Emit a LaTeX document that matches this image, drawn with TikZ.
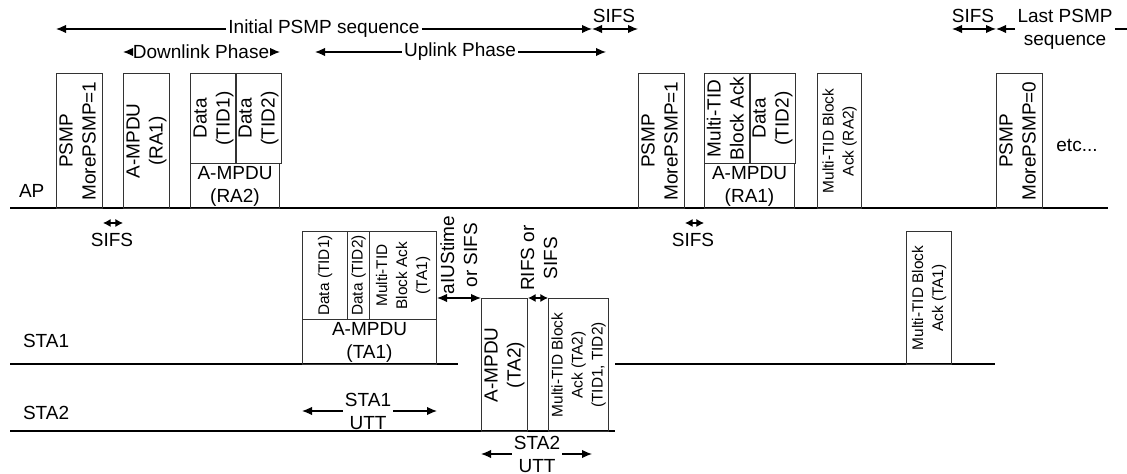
\documentclass[tikz,border=0pt]{standalone}
\usepackage{fontspec}
\setmainfont{Liberation Sans}
\usepackage{graphicx}
\usetikzlibrary{arrows.meta}
\newcommand{\vtext}[1]{\rotatebox{90}{\begin{tabular}{@{}c@{}}#1\end{tabular}}}
\begin{document}
\begin{tikzpicture}[x=0.5pt,y=-0.5pt,
  every node/.style={font=\fontsize{9.5}{11.5}\selectfont},
  small/.style={font=\fontsize{7.7}{10}\selectfont},
  pkt/.style 2 args={draw=black!80,line width=0.5pt,inner sep=0pt,anchor=north west,
    minimum width=#1*0.5pt,minimum height=#2*0.5pt},
  tline/.style={line width=0.7pt},
  tip/.style={line width=0.55pt,-{Latex[length=5pt,width=4.2pt]}},
  dim/.style={line width=0.55pt,{Latex[length=5pt,width=4.2pt]}-{Latex[length=5pt,width=4.2pt]}},
  dimshort/.style={line width=0.55pt,{Latex[length=3.8pt,width=4pt]}-{Latex[length=3.8pt,width=4pt]}}]
\useasboundingbox (0,0) rectangle (1127,474);
% time lines
\draw[tline] (10,208) -- (1108,208);
\draw[tline] (10,364) -- (458,364);
\draw[tline] (615,364) -- (995,364);
\draw[tline] (10,431) -- (615,431);
\node[anchor=west] (ap) at (12,191) {AP};
\node[anchor=west] (sta1) at (16,341) {STA1};
\node[anchor=west] (sta2) at (16,413) {STA2};
% AP frames
\node[pkt={45}{135}] (psmpA) at (56,73) {\vtext{PSMP\\MorePSMP=1}};
\node[pkt={44}{135}] (mpduA) at (123,73) {\vtext{A-MPDU\\(RA1)}};
\node[pkt={45}{90}] (dataA) at (190,73) {\vtext{Data\\(TID1)}};
\node[pkt={44}{90}] (dataB) at (235,73) {\vtext{Data\\(TID2)}};
\node[pkt={89}{45},align=center] (mpduB) at (190,163) {A-MPDU\\(RA2)};
\node[pkt={44}{135}] (psmpB) at (638,73) {\vtext{PSMP\\MorePSMP=1}};
\node[pkt={45}{90}] (ackA) at (704,73) {\vtext{Multi-TID\\Block Ack}};
\node[pkt={45}{90}] (dataC) at (749,73) {\vtext{Data\\(TID2)}};
\node[pkt={90}{45},align=center] (mpduC) at (704,163) {A-MPDU\\(RA1)};
\node[pkt={44}{135},small] (ackB) at (817,73) {\vtext{Multi-TID Block\\Ack (RA2)}};
\node[pkt={45}{135}] (psmpC) at (996,73) {\vtext{PSMP\\MorePSMP=0}};
\node (etc) at (1077,145) {etc...};
% STA1 frames
\node[pkt={45}{88},small] (dataD) at (302,231) {\vtext{Data (TID1)}};
\node[pkt={22}{88},small] (dataE) at (347,231) {\vtext{Data (TID2)}};
\node[pkt={67}{88},small] (ackC) at (369,231) {\vtext{Multi-TID\\Block Ack\\(TA1)}};
\node[pkt={134}{45},align=center] (mpduD) at (302,319) {A-MPDU\\(TA1)};
\node[pkt={45}{133},small] (ackD) at (906,231) {\vtext{Multi-TID Block\\Ack (TA1)}};
% STA2 frames
\node[pkt={45}{133}] (mpduE) at (481,298) {\vtext{A-MPDU\\(TA2)}};
\node[pkt={56}{133},small] (ackE) at (548,298) {\vtext{Multi-TID Block\\Ack (TA2)\\(TID1, TID2)}};
% sequence and phase spans
\node[inner sep=1pt] (init) at (324,29) {Initial PSMP sequence};
\coordinate (initR) at (592,29);
\draw[tip] (init.west) -- (init.west -| psmpA.west);
\draw[tip] (init.east) -- (initR);
\node (sifsA) at (614,16) {SIFS};
\draw[dim] (initR) -- (initR -| psmpB.west);
\node[inner sep=1pt] (down) at (201,52) {Downlink Phase};
\draw[tip] (down.west) -- (down.west -| mpduA.west);
\draw[tip] (down.east) -- (down.east -| mpduB.east);
\node[inner sep=1pt] (up) at (460,52) {Uplink Phase};
\coordinate (upL) at (315,52);
\coordinate (upR) at (606,52);
\draw[tip] (up.west) -- (upL);
\draw[tip] (up.east) -- (upR);
\coordinate (sifsL) at (952,29);
\node (sifsB) at (973,16) {SIFS};
\draw[dim] (sifsL) -- (sifsL -| psmpC.west);
\node[align=center,inner sep=1pt] (last) at (1065,29) {Last PSMP\\sequence};
\coordinate (edgeR) at (1127,29);
\draw[tip] (last.west) -- (last.west -| psmpC.west);
\draw[line width=0.55pt] (last.east) -- (edgeR);
% inter-frame spaces
\draw[dimshort] ([yshift=-7pt]psmpA.south east) -- ([yshift=-7pt]mpduA.south west);
\node (sifsC) at (112,240) {SIFS};
\draw[dimshort] ([yshift=-7pt]psmpB.south east) -- ([yshift=-7pt]mpduC.south west);
\node (sifsD) at (693,240) {SIFS};
\draw[dim] (ackC.east |- mpduE.north) -- (mpduE.north west);
\node[inner sep=0pt] (aius) at (461,255) {\vtext{aIUStime\\or SIFS}};
\draw[dimshort] (mpduE.north east) -- (ackE.north west);
\node[inner sep=0pt] (rifs) at (541,258) {\vtext{RIFS or\\SIFS}};
% uplink transmission times
\node[align=center,inner sep=1pt] (utt1) at (368,411) {STA1\\UTT};
\draw[tip] (utt1.west) -- (utt1.west -| mpduD.west);
\draw[tip] (utt1.east) -- (utt1.east -| mpduD.east);
\node[align=center,inner sep=1pt] (utt2) at (537,454) {STA2\\UTT};
\coordinate (utt2R) at (592,454);
\draw[tip] (utt2.west) -- (utt2.west -| mpduE.west);
\draw[tip] (utt2.east) -- (utt2R);
\end{tikzpicture}
\end{document}
